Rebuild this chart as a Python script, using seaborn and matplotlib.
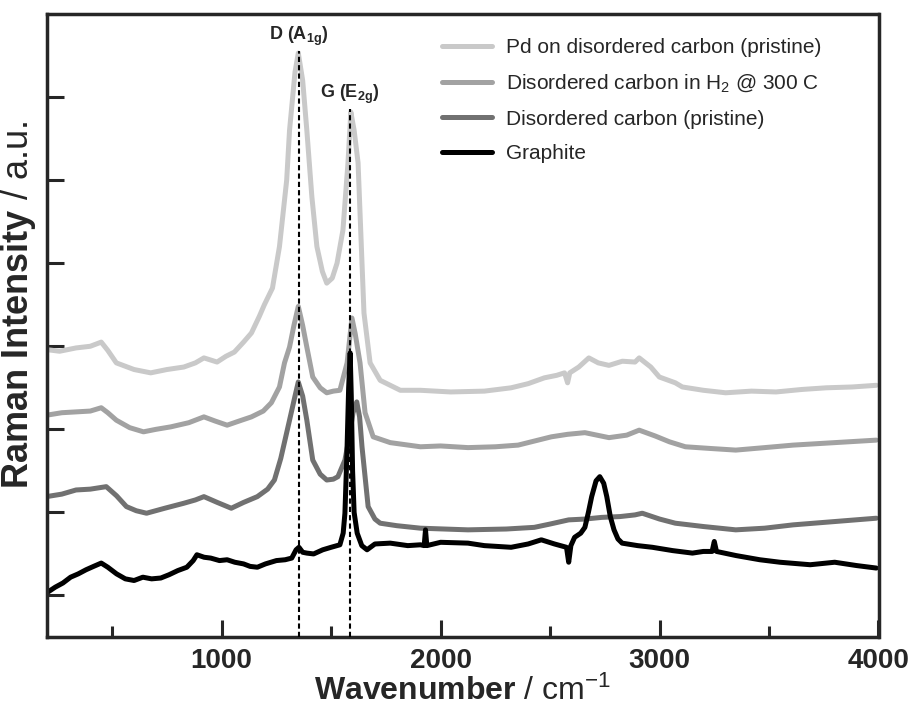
import matplotlib
matplotlib.use("Agg")
import matplotlib.pyplot as plt
import seaborn as sns
import pandas as pd

# ---------------- data ----------------
series_names = [
    "Pd on disordered carbon (pristine)",
    "Disordered carbon in H$_2$ @ 300 C",
    "Disordered carbon (pristine)",
    "Graphite",
]
series_colors = ["#c9c9c9", "#a2a2a2", "#717171", "#000000"]

pd_x = [200, 260, 335, 400, 450, 480, 519, 600, 676, 750, 827, 880, 919, 979,
        1020, 1058, 1100, 1136, 1172, 1195, 1232, 1264, 1297, 1310, 1335, 1350,
        1370, 1389, 1412, 1435, 1460, 1480, 1505, 1527, 1554, 1577, 1590, 1605,
        1623, 1641, 1650, 1678, 1724, 1816, 1908, 2046, 2200, 2322, 2400, 2474,
        2530, 2566, 2580, 2590, 2631, 2677, 2720, 2769, 2830, 2888, 2907, 2960,
        2999, 3072, 3104, 3200, 3302, 3420, 3532, 3650, 3762, 3880, 3990]
pd_y = [346, 344, 348, 350, 355, 345, 330, 322, 318, 322, 325, 330, 336, 331,
        338, 343, 355, 366, 386, 400, 420, 470, 550, 610, 680, 703,
        670, 610, 530, 470, 440, 426, 432, 450, 490, 571, 632, 610,
        571, 450, 390, 330, 309, 297, 297, 295, 296, 300, 305, 312,
        315, 318, 306, 318, 325, 336, 330, 327, 332, 331, 336, 325,
        313, 306, 301, 297, 294, 296, 295, 298, 300, 301, 303]

h2_x = [200, 270, 335, 400, 450, 480, 519, 580, 643, 700, 768, 850, 919, 970,
        1025, 1080, 1136, 1190, 1227, 1264, 1287, 1310, 1330, 1350, 1370, 1389,
        1416, 1450, 1480, 1510, 1540, 1573, 1595, 1610, 1632, 1655, 1692, 1770,
        1908, 2000, 2125, 2250, 2354, 2430, 2506, 2580, 2659, 2769, 2850, 2907,
        2980, 3045, 3118, 3230, 3348, 3480, 3610, 3800, 3990]
h2_y = [267, 270, 271, 272, 276, 270, 261, 252, 247, 250, 253, 258, 265, 260,
        255, 260, 265, 272, 282, 301, 330, 349, 375, 398, 375, 349,
        313, 300, 294, 296, 297, 330, 384, 365, 330, 270, 241, 234,
        229, 230, 228, 229, 231, 236, 241, 244, 246, 240, 243, 249,
        242, 235, 229, 227, 225, 228, 231, 234, 237]

dc_x = [200, 270, 335, 400, 473, 520, 565, 610, 657, 740, 827, 880, 919, 980,
        1044, 1100, 1163, 1210, 1241, 1270, 1310, 1335, 1350, 1370, 1389, 1416,
        1450, 1480, 1510, 1531, 1563, 1580, 1600, 1617, 1630, 1641, 1669, 1700,
        1724, 1800, 1908, 2125, 2300, 2428, 2500, 2585, 2660, 2736, 2820, 2888,
        2921, 3000, 3072, 3200, 3348, 3480, 3610, 3800, 3990]
dc_y = [169, 172, 177, 178, 181, 170, 157, 152, 149, 155, 161, 165, 169, 162,
        155, 162, 169, 178, 189, 215, 261, 290, 307, 290, 261, 213,
        196, 189, 190, 193, 213, 237, 270, 283, 265, 229, 157, 142,
        137, 134, 131, 129, 130, 132, 136, 141, 142, 144, 145, 147,
        149, 142, 137, 133, 129, 131, 135, 139, 143]

gr_x = [200, 240, 275, 310, 345, 381, 415, 450, 480, 520, 560, 600, 640, 680,
        722, 760, 800, 841, 870, 887, 920, 950, 990, 1025, 1060, 1100, 1130, 1163,
        1200, 1250, 1290, 1320, 1340, 1353, 1370, 1389, 1420, 1462, 1500, 1540,
        1555, 1563, 1572, 1580, 1587, 1592, 1598, 1605, 1619, 1640, 1664, 1700,
        1770, 1850, 1908, 1925, 1931, 1937, 2000, 2125, 2200, 2322, 2400, 2460,
        2520, 2575, 2585, 2595, 2612, 2640, 2659, 2675, 2690, 2710, 2727, 2745,
        2759, 2775, 2792, 2810, 2829, 2900, 2967, 3060, 3150, 3200, 3240, 3250,
        3260, 3350, 3458, 3550, 3688, 3800, 3900, 3990]
gr_y = [53, 60, 65, 72, 76, 81, 85, 89, 84, 76, 70, 68, 72, 70,
        71, 75, 80, 84, 92, 99, 96, 95, 92, 93, 90, 88, 85, 84,
        88, 92, 93, 95, 105, 108, 102, 101, 100, 105, 108, 111,
        125, 149, 220, 300, 342, 290, 200, 150, 125, 110, 105, 112,
        113, 110, 111, 110, 129, 110, 114, 113, 110, 108, 112, 117,
        112, 108, 90, 110, 120, 125, 132, 150, 169, 188, 193, 185,
        169, 145, 129, 118, 113, 110, 108, 104, 101, 103, 103, 115,
        103, 98, 93, 90, 87, 90, 86, 83]

peak_pos = [1353, 1587]
peak_top = [706, 636]
peak_labels = [r"D (A$_{\mathbf{1g}}$)", r"G (E$_{\mathbf{2g}}$)"]
label_y = [709, 639]

x_major = [1000, 2000, 3000, 4000]
x_minor = [500, 1500, 2500, 3500]
y_major = [50, 150, 250, 350, 450, 550, 650]

# ---------------- build table ----------------
frames = []
for name, xs, ys in zip(series_names, [pd_x, h2_x, dc_x, gr_x], [pd_y, h2_y, dc_y, gr_y]):
    frames.append(pd.DataFrame({"Wavenumber": xs, "Intensity": ys, "Sample": name}))
df = pd.concat(frames, ignore_index=True)

# ---------------- style ----------------
sns.set_style("ticks")
plt.rcParams["font.family"] = ["Liberation Sans", "DejaVu Sans"]
plt.rcParams["mathtext.fontset"] = "custom"
plt.rcParams["mathtext.rm"] = "Liberation Sans"
plt.rcParams["mathtext.bf"] = "Liberation Sans:bold"
plt.rcParams["mathtext.it"] = "Liberation Sans:italic"

fig = plt.figure(figsize=(9.09, 7.18), dpi=100)
ax = fig.add_axes([46.5 / 909, 81 / 718, 832 / 909, 623 / 718])

sns.lineplot(data=df, x="Wavenumber", y="Intensity", hue="Sample",
             hue_order=series_names, palette=series_colors, sort=False,
             estimator=None, linewidth=3.6, ax=ax)

for xp, yt in zip(peak_pos, peak_top):
    ax.plot([xp, xp], [0, yt], linestyle=(0, (2.5, 1.5)), color="black",
            linewidth=1.5, zorder=5)
for xp, ly, lab in zip(peak_pos, label_y, peak_labels):
    ax.text(xp, ly, lab, ha="center", va="bottom", fontsize=13, fontweight="bold")

ax.set_xlim(200, 4000)
ax.set_ylim(0, 750)
ax.set_xticks(x_major)
ax.set_xticks(x_minor, minor=True)
ax.set_yticks(y_major)
ax.set_yticklabels([])
ax.tick_params(axis="both", which="major", direction="in", length=12, width=2.2,
               labelsize=20)
ax.tick_params(axis="x", which="minor", direction="in", length=8, width=2.2)
ax.tick_params(axis="x", which="major", pad=8)
for lab in ax.get_xticklabels():
    lab.set_fontweight("bold")
for sp in ax.spines.values():
    sp.set_linewidth(2.5)
    sp.set_visible(True)

ax.set_xlabel(r"$\mathbf{Wavenumber}$ / cm$^{-1}$", fontsize=23)
ax.xaxis.set_label_coords(0.4995, -0.062)
ax.set_ylabel(r"$\mathbf{Raman\ Intensity}$ / a.u.", fontsize=26)
ax.yaxis.set_label_coords(-0.010, 0.533)

leg = ax.legend(loc="upper left", bbox_to_anchor=(0.465, 0.975), frameon=False,
                fontsize=15, handlelength=2.4, handletextpad=0.7,
                labelspacing=0.75, borderaxespad=0)
for line in leg.get_lines():
    line.set_linewidth(3.6)

fig.savefig("out.png", dpi=100)
